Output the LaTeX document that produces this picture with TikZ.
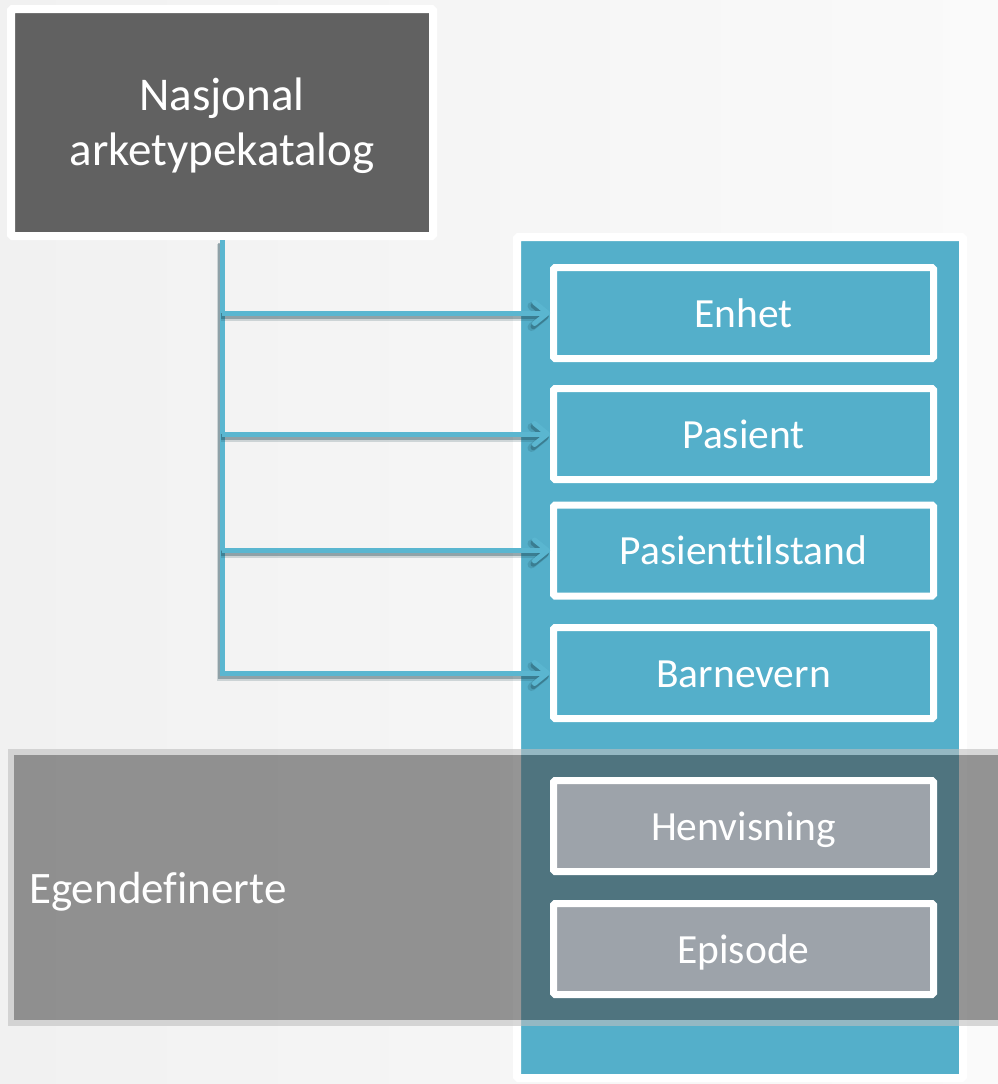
\documentclass[tikz,border=0pt]{standalone}
\usepackage{fontspec}
\setmainfont{Carlito}[Ligatures=NoCommon]
\usetikzlibrary{arrows.meta,shadows,calc}

\definecolor{pagebgA}{HTML}{F1F1F1}
\definecolor{pagebgB}{HTML}{FAFAFA}
\definecolor{darkbox}{HTML}{616161}
\definecolor{panelblue}{HTML}{54AFCA}
\definecolor{linkblue}{HTML}{5AB6D0}
\definecolor{linkshade}{HTML}{1F4652}
\definecolor{localgrey}{HTML}{9DA3AA}
\definecolor{veilgrey}{HTML}{4C4C4C}
\definecolor{veilrim}{HTML}{BFBFBF}

\begin{document}
\begin{tikzpicture}[x=1pt,y=-1pt,
  framebox/.style={rectangle, draw=white, rounded corners=1.5pt, inner sep=0pt,
    text=white,
    drop shadow={shadow xshift=1.5pt, shadow yshift=-2.5pt, opacity=0.3}},
  topbox/.style={framebox, line width=8pt, fill=darkbox,
    minimum width=422pt, minimum height=227pt},
  toptext/.style={inner sep=0pt, text=white, font=\fontsize{47}{56}\selectfont},
  panelbox/.style={framebox, line width=8pt, fill=panelblue,
    minimum width=446pt, minimum height=841pt},
  catbox/.style={framebox, line width=7pt, fill=panelblue,
    minimum width=380pt, minimum height=91pt,
    font=\fontsize{41.5}{50}\selectfont, text height=28pt, text depth=0pt},
  localbox/.style={catbox, fill=localgrey},
  linktip/.style={-{Straight Barb[length=13pt, width=21pt, line width=0pt 1, round]}},
  conn/.style={draw=linkblue, line width=5pt, linktip,
    preaction={draw=linkshade, opacity=0.18, line width=8pt, linktip,
      transform canvas={shift={(-1.5pt,-3.5pt)}}},
    preaction={draw=linkshade, opacity=0.35, line width=5.5pt, linktip,
      transform canvas={shift={(-1pt,-3pt)}}}},
]
% page background
\useasboundingbox (0,0) rectangle (998,1084);
\shade[left color=pagebgA, right color=pagebgB] (0,0) rectangle (998,1084);

% national catalogue box
\node[topbox] (nak) at (222,122.5) {};
\node[toptext, anchor=base] (nakA) at ($(nak.center)+(0,-12.5)$) {Nasjonal};
\node[toptext, anchor=base] (nakB) at ($(nak.center)+(0,42.5)$) {arketypekatalog};

% archetype panel with its entries
\node[panelbox] (panel) at (740,657.5) {};
\node[catbox] (enhet)    at (743.5,313)   {Enhet};
\node[catbox] (pasient)  at (743.5,434)   {Pasient};
\node[catbox] (tilstand) at (743.5,550.5) {Pasienttilstand};
\node[catbox] (barn)     at (743.5,673)   {Barnevern};

% links from the catalogue
\draw[conn] (nak.south) |- (barn.west);
\foreach \b in {enhet,pasient,tilstand}
  \draw[conn] (\b.west -| nak.south) -- (\b.west);

% band for self-defined archetypes
\fill[veilgrey, opacity=0.59] (14,755) rectangle (1010,1020);
\draw[veilrim, opacity=0.6, line width=6pt] (11,752) rectangle (1010,1023);
\node[toptext, anchor=base west, font=\fontsize{45}{54}\selectfont]
  (egen) at (29,903) {Egendefinerte};

\node[localbox] (henv) at (743.5,826) {Henvisning};
\node[localbox] (epis) at (743.5,949) {Episode};
\end{tikzpicture}
\end{document}
